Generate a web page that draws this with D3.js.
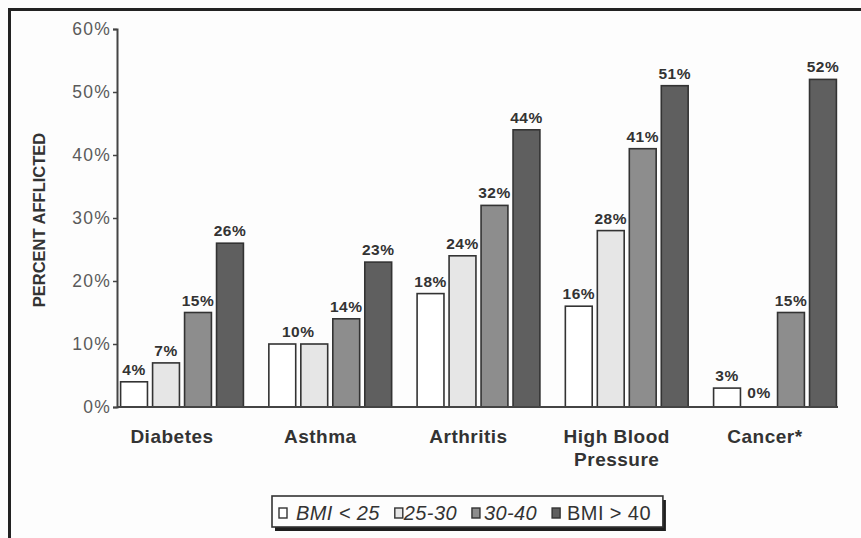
<!DOCTYPE html>
<html>
<head>
<meta charset="utf-8">
<script src="https://cdn.jsdelivr.net/npm/d3@7/dist/d3.min.js"></script>
<style>
  html, body { margin: 0; padding: 0; background: #fdfdfd; }
  svg { display: block; font-family: Arial, "Liberation Sans", Helvetica, sans-serif; }
</style>
</head>
<body>
<svg id="chart" width="861" height="538"></svg>
<script>
// Conditions and BMI groups
const categories = ["Diabetes", "Asthma", "Arthritis", "High Blood\nPressure", "Cancer*"];
const groups = ["BMI < 25", "25-30", "30-40", "BMI > 40"];
const groupItalic = [true, true, true, false];

// Percent afflicted, one array per BMI group (same order as categories)
const bmiUnder25 = [4, 10, 18, 16, 3];
const bmi25to30  = [7, 10, 24, 28, 0];
const bmi30to40  = [15, 14, 32, 41, 15];
const bmiOver40  = [26, 23, 44, 51, 52];
const seriesValues = [bmiUnder25, bmi25to30, bmi30to40, bmiOver40];

const yTicks = [0, 10, 20, 30, 40, 50, 60];

const fills = ["#ffffff", "#e6e6e6", "#8d8d8d", "#5f5f5f"];
const ink = "#333333";

const svg = d3.select("#chart");
const W = 861, H = 538;

// outer frame (top and left edges)
svg.append("rect").attr("width", W).attr("height", H).attr("fill", "#fdfdfd");
svg.append("path")
  .attr("d", `M9.5,${H} V9.5 H${W}`)
  .attr("fill", "none").attr("stroke", "#222").attr("stroke-width", 3);

const plot = { left: 117, right: 838, top: 29, bottom: 407 };

const y = d3.scaleLinear().domain([0, 60]).range([plot.bottom, plot.top]);

const x0 = d3.scaleBand()
  .domain(categories)
  .range([119, 838])
  .paddingInner(0.15)
  .paddingOuter(0);

const x1 = d3.scaleBand()
  .domain(d3.range(groups.length))
  .range([0, x0.bandwidth()])
  .paddingInner(0.16)
  .paddingOuter(0.05);

// y axis
const yAxis = d3.axisLeft(y)
  .tickValues(yTicks)
  .tickFormat(d => d + "%")
  .tickSize(4)
  .tickPadding(2);

const gy = svg.append("g").attr("transform", `translate(${plot.left},0)`).call(yAxis);
gy.select(".domain").attr("stroke", "#444").attr("stroke-width", 2);
gy.selectAll(".tick line").attr("stroke", "#444").attr("stroke-width", 1.5);
gy.selectAll(".tick text")
  .attr("fill", "#5a5a5a")
  .style("font-size", "17.5px")
  .style("letter-spacing", "1.2px");

// y axis title
svg.append("text")
  .attr("transform", `translate(45,${(plot.top + plot.bottom) / 2 + 2}) rotate(-90)`)
  .attr("text-anchor", "middle")
  .attr("fill", ink)
  .style("font-size", "16.5px")
  .style("font-weight", "bold")
  .text("PERCENT AFFLICTED");

// bars
const rows = categories.map((c, ci) => ({
  cat: c,
  vals: seriesValues.map((s, si) => ({ si, v: s[ci] }))
}));

const gCat = svg.append("g").selectAll("g")
  .data(rows)
  .join("g")
  .attr("transform", d => `translate(${x0(d.cat)},0)`);

gCat.selectAll("rect")
  .data(d => d.vals.filter(e => e.v > 0))
  .join("rect")
  .attr("x", e => x1(e.si))
  .attr("y", e => y(e.v))
  .attr("width", x1.bandwidth())
  .attr("height", e => y(0) - y(e.v))
  .attr("fill", e => fills[e.si])
  .attr("stroke", ink)
  .attr("stroke-width", 1.6);

// value labels: neighbouring bars with the same value share one label
const labelData = d => {
  const out = [];
  d.vals.forEach((e, i) => {
    const prev = out[out.length - 1];
    if (prev && prev.v === e.v && prev.last === i - 1 && e.v > 0) {
      prev.last = i;
    } else {
      out.push({ v: e.v, first: i, last: i });
    }
  });
  return out;
};

gCat.selectAll("text.val")
  .data(labelData)
  .join("text")
  .attr("class", "val")
  .attr("x", e => (x1(e.first) + x1(e.last) + x1.bandwidth()) / 2)
  .attr("y", e => y(e.v) - (e.v > 0 ? 7 : 9))
  .attr("text-anchor", "middle")
  .attr("fill", ink)
  .style("font-size", "15.5px")
  .style("font-weight", "bold")
  .style("letter-spacing", "0.5px")
  .text(e => e.v + "%");

// x axis baseline
svg.append("line")
  .attr("x1", plot.left).attr("x2", plot.right)
  .attr("y1", plot.bottom).attr("y2", plot.bottom)
  .attr("stroke", "#444").attr("stroke-width", 2);

// category labels
const catX = d => x0(d) + x0.bandwidth() / 2 - 10;
const catLabels = svg.append("g").selectAll("text")
  .data(categories)
  .join("text")
  .attr("x", catX)
  .attr("y", 443)
  .attr("text-anchor", "middle")
  .attr("fill", ink)
  .style("font-size", "19px")
  .style("font-weight", "bold")
  .style("letter-spacing", "0.5px");

catLabels.each(function(d) {
  const t = d3.select(this);
  d.split("\n").forEach((line, i) => {
    t.append("tspan")
      .attr("x", catX(d))
      .attr("dy", i === 0 ? 0 : 23)
      .text(line);
  });
});

// legend
const leg = { x: 272, y: 496, h: 31 };
const legShadow = svg.append("rect");
const legBox = svg.append("rect");
const legItems = svg.append("g");

let cx = leg.x + 7;
const textOffsets = [17, 9, 12, 15];
groups.forEach((g, i) => {
  legItems.append("rect")
    .attr("x", cx).attr("y", leg.y + 12)
    .attr("width", 8).attr("height", 10)
    .attr("fill", fills[i])
    .attr("stroke", ink).attr("stroke-width", 1.4);
  const t = legItems.append("text")
    .attr("x", cx + textOffsets[i])
    .attr("y", leg.y + 24)
    .attr("fill", ink)
    .style("font-size", "20px")
    .style("letter-spacing", "0.4px")
    .style("font-style", groupItalic[i] ? "italic" : "normal")
    .text(g);
  cx = cx + textOffsets[i] + t.node().getComputedTextLength() + 15;
});
const legW = cx - 15 + 12 - leg.x;

legShadow
  .attr("x", leg.x + 3).attr("y", leg.y + 4)
  .attr("width", legW).attr("height", leg.h)
  .attr("fill", "#1e1e1e");
legBox
  .attr("x", leg.x).attr("y", leg.y)
  .attr("width", legW).attr("height", leg.h)
  .attr("fill", "#fdfdfd")
  .attr("stroke", ink).attr("stroke-width", 1.6);
</script>
</body>
</html>
